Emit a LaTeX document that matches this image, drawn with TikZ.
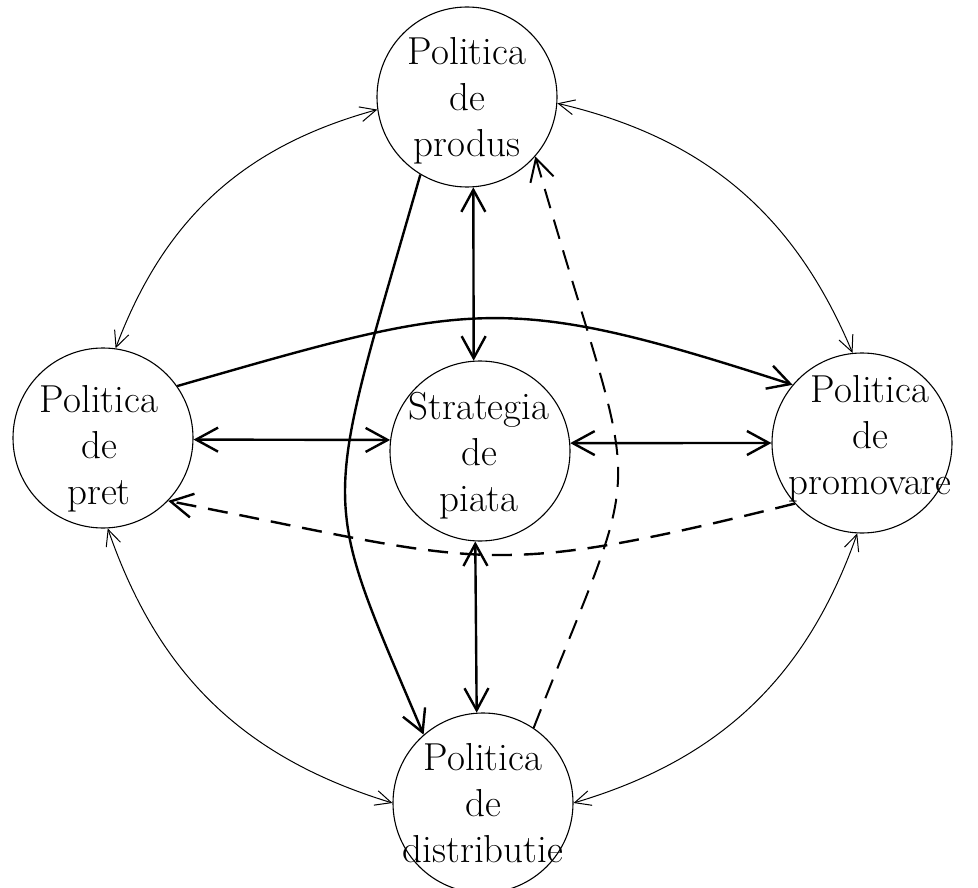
\documentclass[tikz,border=0pt]{standalone}
\usetikzlibrary{arrows.meta}
\tikzset{
  BT/.tip={Straight Barb[length=22pt,width=24pt]},
  ST/.tip={Straight Barb[length=16pt,width=15pt]},
}
\begin{document}
\begin{tikzpicture}[x=1pt,y=1pt,
  circ/.style={circle, draw, line width=1.1pt, minimum size=180pt, inner sep=0pt},
  lbl/.style={align=center, inner sep=0pt, font=\fontsize{39}{46}\selectfont},
  mainboth/.style={line width=2.4pt, BT-BT},
  mainone/.style={line width=2.4pt, -BT},
  maindash/.style={line width=2.4pt, -BT, dash pattern=on 20pt off 12pt},
  outer/.style={line width=1pt, ST-ST},
]
\useasboundingbox (0,0) rectangle (978,-888);

% circles
\node[circ] (T) at (467,-97) {};
\node[circ] (L) at (103,-438) {};
\node[circ] (C) at (480,-451) {};
\node[circ] (R) at (862,-443) {};
\node[circ] (B) at (483,-803) {};

% labels
\node[lbl] (tT) at (467,-100.3) {Politica\\de\\produs};
\node[lbl] (tL) at (99,-448.3) {Politica\\de\\pret};
\node[lbl] (tC) at (479,-455.3) {Strategia\\de\\piata};
\node[lbl] (tR) at (870,-438.3) {Politica\\de\\promovare};
\node[lbl] (tB) at (483,-803.5) {Politica\\de\\distributie};

% straight double arrows
\draw[mainboth] (T.-86) -- (C.94);
\draw[mainboth] (C.-93) -- (B.94.5);
\draw[mainboth] (L.-1) -- (C.173);
\draw[mainboth] (C.5) -- (R.180);

% curved arrows
\draw[mainone] (L.35.5) .. controls +(16:306) and +(162:306) .. (R.140);
\draw[maindash] (R.222) .. controls +(194:323) and +(-11:323) .. (L.316);
\draw[mainone] (T.-121) .. controls +(254:360) and +(113:270) .. (B.131);
\draw[maindash, line width=2pt] (B.56.5) .. controls +(68.6:319) and +(-74:386) .. (T.-41);

% outer arcs
\draw[outer] (T.188) to[bend right=27] (L.82);
\draw[outer] (T.-4) to[bend left=27] (R.96);
\draw[outer] (L.-87) to[bend right=27] (B.180);
\draw[outer] (R.-93) to[bend left=27] (B.0);
\end{tikzpicture}
\end{document}
